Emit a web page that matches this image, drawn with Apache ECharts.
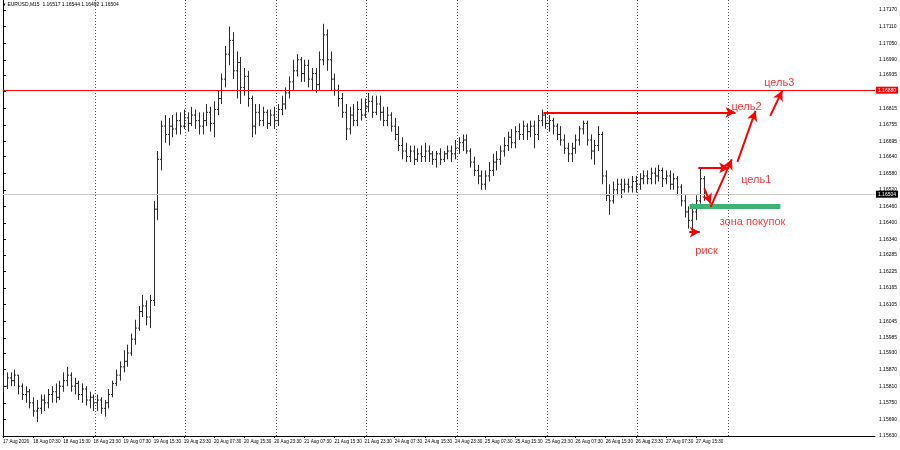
<!DOCTYPE html>
<html><head><meta charset="utf-8">
<script src="https://cdn.jsdelivr.net/npm/echarts@6/dist/echarts.min.js"></script>
<style>html,body{margin:0;padding:0;background:#fff}#c{width:900px;height:450px}</style>
</head><body><div id="c"></div>
<script>
// ---- data ----
const headerText = '\u25BE EURUSD,M15  1.16517 1.16544 1.16492 1.16504';
const xTickLabels = ['17 Aug 2026','18 Aug 07:30','18 Aug 15:30','18 Aug 23:30','19 Aug 07:30','19 Aug 15:30','19 Aug 23:30','20 Aug 07:30','20 Aug 15:30','20 Aug 23:30','21 Aug 07:30','21 Aug 15:30','21 Aug 23:30','24 Aug 07:30','24 Aug 15:30','24 Aug 23:30','25 Aug 07:30','25 Aug 15:30','25 Aug 23:30','26 Aug 07:30','26 Aug 15:30','26 Aug 23:30','27 Aug 07:30','27 Aug 15:30'];
const barsPerXTick = 8;
const yTickLabels = ['1.15630','1.15690','1.15750','1.15810','1.15870','1.15930','1.15985','1.16045','1.16105','1.16165','1.16225','1.16285','1.16340','1.16400','1.16460','1.16520','1.16580','1.16640','1.16695','1.16755','1.16815','1.16875','1.16935','1.16990','1.17050','1.17110','1.17170'];
const daySeparators = [24.5, 48.5, 72.5, 96.5, 120.5, 144.5, 168.5, 192.5];
const resistanceLevel = 1.16880;
const lastPrice = 1.16504;
// bars: [open, close, low, high]
const bars = [
[1.1583,1.1581,1.1579,1.1585],[1.1581,1.1584,1.1580,1.1586],[1.1584,1.1583,1.1581,1.1586],[1.1583,1.1585,1.1581,1.1587],
[1.1585,1.1581,1.1578,1.1585],[1.1581,1.1578,1.1576,1.1582],[1.1578,1.1579,1.1575,1.1581],[1.1579,1.1575,1.1573,1.1580],
[1.1575,1.1572,1.1570,1.1577],[1.1572,1.1573,1.1568,1.1576],[1.1573,1.1576,1.1571,1.1578],[1.1576,1.1575,1.1572,1.1578],
[1.1575,1.1578,1.1573,1.1580],[1.1578,1.1579,1.1575,1.1581],[1.1579,1.1577,1.1575,1.1582],[1.1577,1.1581,1.1576,1.1583],
[1.1581,1.1583,1.1579,1.1586],[1.1583,1.1585,1.1581,1.1588],[1.1585,1.1581,1.1579,1.1586],[1.1581,1.1582,1.1578,1.1584],
[1.1582,1.1578,1.1576,1.1583],[1.1578,1.1580,1.1575,1.1582],[1.1580,1.1576,1.1574,1.1581],[1.1576,1.1577,1.1573,1.1579],
[1.1577,1.1575,1.1572,1.1578],[1.1575,1.1576,1.1572,1.1578],[1.1576,1.1573,1.1571,1.1577],[1.1573,1.1575,1.1570,1.1576],
[1.1575,1.1578,1.1573,1.1580],[1.1578,1.1582,1.1577,1.1583],[1.1582,1.1585,1.1581,1.1587],[1.1585,1.1588,1.1583,1.1590],
[1.1588,1.1590,1.1586,1.1594],[1.1590,1.1593,1.1588,1.1596],[1.1593,1.1598,1.1592,1.1600],[1.1598,1.1602,1.1596,1.1605],
[1.1602,1.1608,1.1601,1.1610],[1.1608,1.1610,1.1606,1.1614],[1.1610,1.1606,1.1603,1.1612],[1.1606,1.1612,1.1602,1.1614],
[1.1612,1.1645,1.1610,1.1648],[1.1645,1.1663,1.1641,1.1666],[1.1663,1.1675,1.1659,1.1677],[1.1675,1.1672,1.1669,1.1679],
[1.1672,1.1675,1.1668,1.1678],[1.1675,1.1674,1.1671,1.1679],[1.1674,1.1677,1.1672,1.1680],[1.1677,1.1675,1.1672,1.1680],
[1.1675,1.1678,1.1674,1.1681],[1.1678,1.1676,1.1673,1.1680],[1.1676,1.1679,1.1675,1.1682],[1.1679,1.1677,1.1674,1.1681],
[1.1677,1.1675,1.1672,1.1680],[1.1675,1.1677,1.1672,1.1680],[1.1677,1.1680,1.1675,1.1683],[1.1680,1.1676,1.1673,1.1682],
[1.1676,1.1681,1.1671,1.1684],[1.1681,1.1685,1.1679,1.1688],[1.1685,1.1692,1.1683,1.1694],[1.1692,1.1701,1.1689,1.1704],
[1.1701,1.1706,1.1697,1.1711],[1.1706,1.1695,1.1692,1.1709],[1.1695,1.1698,1.1685,1.1702],[1.1698,1.1689,1.1683,1.1700],
[1.1689,1.1693,1.1686,1.1696],[1.1693,1.1685,1.1682,1.1695],[1.1685,1.1675,1.1671,1.1686],[1.1675,1.1680,1.1672,1.1683],
[1.1680,1.1677,1.1675,1.1683],[1.1677,1.1680,1.1675,1.1682],[1.1680,1.1676,1.1674,1.1681],[1.1676,1.1679,1.1675,1.1681],
[1.1679,1.1677,1.1674,1.1682],[1.1677,1.1681,1.1675,1.1683],[1.1681,1.1683,1.1679,1.1686],[1.1683,1.1687,1.1681,1.1689],
[1.1687,1.1691,1.1685,1.1693],[1.1691,1.1695,1.1688,1.1699],[1.1695,1.1699,1.1693,1.1701],[1.1699,1.1694,1.1691,1.1700],
[1.1694,1.1697,1.1691,1.1699],[1.1697,1.1692,1.1689,1.1699],[1.1692,1.1694,1.1688,1.1696],[1.1694,1.1690,1.1687,1.1696],
[1.1690,1.1699,1.1688,1.1702],[1.1699,1.1708,1.1697,1.1712],[1.1708,1.1699,1.1695,1.1710],[1.1699,1.1692,1.1688,1.1702],
[1.1692,1.1688,1.1686,1.1694],[1.1688,1.1685,1.1682,1.1690],[1.1685,1.1680,1.1678,1.1687],[1.1680,1.1674,1.1670,1.1683],
[1.1674,1.1679,1.1672,1.1682],[1.1679,1.1677,1.1675,1.1683],[1.1677,1.1681,1.1675,1.1684],[1.1681,1.1679,1.1677,1.1685],
[1.1679,1.1682,1.1678,1.1685],[1.1682,1.1684,1.1680,1.1687],[1.1684,1.1680,1.1678,1.1686],[1.1680,1.1683,1.1679,1.1686],
[1.1683,1.1680,1.1677,1.1686],[1.1680,1.1677,1.1675,1.1682],[1.1677,1.1679,1.1675,1.1682],[1.1679,1.1675,1.1673,1.1680],
[1.1675,1.1672,1.1670,1.1678],[1.1672,1.1668,1.1666,1.1675],[1.1668,1.1666,1.1663,1.1671],[1.1666,1.1664,1.1662,1.1669],
[1.1664,1.1666,1.1662,1.1668],[1.1666,1.1663,1.1661,1.1668],[1.1663,1.1665,1.1662,1.1667],[1.1665,1.1664,1.1662,1.1668],
[1.1664,1.1666,1.1662,1.1669],[1.1666,1.1665,1.1662,1.1668],[1.1665,1.1663,1.1661,1.1666],[1.1663,1.1665,1.1660,1.1666],
[1.1665,1.1663,1.1661,1.1667],[1.1663,1.1665,1.1662,1.1666],[1.1665,1.1666,1.1663,1.1668],[1.1666,1.1665,1.1662,1.1668],
[1.1665,1.1667,1.1663,1.1670],[1.1667,1.1669,1.1665,1.1671],[1.1669,1.1670,1.1666,1.1672],[1.1670,1.1666,1.1665,1.1672],
[1.1666,1.1662,1.1660,1.1667],[1.1662,1.1659,1.1657,1.1664],[1.1659,1.1657,1.1654,1.1661],[1.1657,1.1654,1.1652,1.1659],
[1.1654,1.1657,1.1652,1.1659],[1.1657,1.1659,1.1655,1.1662],[1.1659,1.1662,1.1657,1.1665],[1.1662,1.1663,1.1659,1.1666],
[1.1663,1.1666,1.1661,1.1668],[1.1666,1.1668,1.1664,1.1671],[1.1668,1.1671,1.1666,1.1673],[1.1671,1.1669,1.1667,1.1674],
[1.1669,1.1673,1.1667,1.1675],[1.1673,1.1672,1.1670,1.1676],[1.1672,1.1675,1.1670,1.1677],[1.1675,1.1673,1.1670,1.1676],
[1.1673,1.1675,1.1671,1.1677],[1.1675,1.1672,1.1667,1.1677],[1.1672,1.1677,1.1670,1.1679],[1.1677,1.1679,1.1675,1.1681],
[1.1679,1.1676,1.1674,1.1680],[1.1676,1.1677,1.1673,1.1679],[1.1677,1.1675,1.1672,1.1678],[1.1675,1.1672,1.1670,1.1676],
[1.1672,1.1670,1.1668,1.1675],[1.1670,1.1667,1.1665,1.1672],[1.1667,1.1665,1.1662,1.1669],[1.1665,1.1667,1.1662,1.1669],
[1.1667,1.1670,1.1665,1.1672],[1.1670,1.1674,1.1668,1.1675],[1.1674,1.1676,1.1672,1.1677],[1.1676,1.1670,1.1668,1.1677],
[1.1670,1.1666,1.1663,1.1672],[1.1666,1.1668,1.1661,1.1670],[1.1668,1.1672,1.1666,1.1675],[1.1672,1.1657,1.1654,1.1673],
[1.1657,1.1650,1.1648,1.1659],[1.1650,1.1648,1.1643,1.1654],[1.1648,1.1652,1.1647,1.1655],[1.1652,1.1654,1.1650,1.1656],
[1.1654,1.1652,1.1649,1.1656],[1.1652,1.1654,1.1651,1.1656],[1.1654,1.1653,1.1651,1.1656],[1.1653,1.1655,1.1651,1.1657],
[1.1655,1.1654,1.1651,1.1657],[1.1654,1.1656,1.1652,1.1658],[1.1656,1.1657,1.1654,1.1659],[1.1657,1.1656,1.1654,1.1659],
[1.1656,1.1658,1.1654,1.1660],[1.1658,1.1657,1.1654,1.1660],[1.1657,1.1659,1.1655,1.1661],[1.1659,1.1656,1.1653,1.1660],
[1.1656,1.1657,1.1654,1.1659],[1.1657,1.1654,1.1652,1.1659],[1.1654,1.1656,1.1652,1.1658],[1.1656,1.1653,1.1650,1.1657],
[1.1653,1.1648,1.1646,1.1654],[1.1648,1.1644,1.1642,1.1650],[1.1644,1.1641,1.1638,1.1646],[1.1641,1.1644,1.1638,1.1647],
[1.1644,1.1648,1.1641,1.1650],[1.1648,1.1656,1.1647,1.1660],[1.1656,1.16504,1.1648,1.1657]
];
// annotations in (bar index, price)
const arrowsLong = [
  [[143.5, 1.16800], [194.5, 1.16800]],
  [[184.6, 1.16599], [192.8, 1.16599]],
  [[186.2, 1.16525], [187.9, 1.16470]],
  [[187.9, 1.16458], [193.5, 1.16630]],
  [[195.0, 1.16621], [199.8, 1.16805]],
  [[203.7, 1.16787], [206.9, 1.16878]],
  [[182.2, 1.16367], [185.0, 1.16367]]
];
const buyZone = [[182.3, 1.16461], [206.4, 1.16461]];
const notes = [
  {name: 'цель3', value: [206.1, 1.16905]},
  {name: 'цель2', value: [197.4, 1.16818]},
  {name: 'цель1', value: [200.0, 1.16556]},
  {name: 'зона покупок', value: [199.0, 1.16404]},
  {name: 'риск', value: [186.8, 1.16300]}
];
const X_MAX = 231.5;
const Y_MIN = 1.15630, Y_MAX = 1.17206;

const chart = echarts.init(document.getElementById('c'), null, {renderer: 'canvas'});
const red = '#ff0000';
const hLine = (price, color, boxColor) => [
  {coord: [0, price], symbol: 'none', lineStyle: {color: color, width: 1, type: 'solid'}},
  {coord: [X_MAX, price], symbol: 'none',
    label: {show: true, position: 'end', distance: 1, formatter: price.toFixed(5), color: '#fff',
      backgroundColor: boxColor, fontSize: 5, padding: [1, 2], fontFamily: 'Liberation Sans'}}
];
const option = {
  animation: false,
  backgroundColor: '#fff',
  textStyle: {fontFamily: 'Liberation Sans, Arial, sans-serif'},
  graphic: [{type: 'text', left: 3, top: 2, style: {text: headerText, fontSize: 5, fill: '#000', fontFamily: 'Liberation Sans'}}],
  grid: {left: 0, right: 25, top: 0, bottom: 14},
  xAxis: {
    type: 'value', min: 0, max: X_MAX,
    axisLine: {show: true, lineStyle: {color: '#000', width: 1}},
    axisTick: {show: true, length: 2, lineStyle: {color: '#000'}, customValues: xTickLabels.map((_, k) => k * barsPerXTick)},
    axisLabel: {show: true, fontSize: 4.6, color: '#000', align: 'left', margin: 3,
      customValues: xTickLabels.map((_, k) => k * barsPerXTick),
      formatter: v => xTickLabels[Math.round(v / barsPerXTick)] || ''},
    splitLine: {show: false}
  },
  yAxis: {
    type: 'value', position: 'right', min: Y_MIN, max: Y_MAX, scale: true,
    axisLine: {show: true, lineStyle: {color: '#000', width: 1}},
    axisTick: {show: true, length: 3, lineStyle: {color: '#000'}, customValues: yTickLabels.map(Number)},
    axisLabel: {show: true, fontSize: 5, color: '#000', margin: 4,
      customValues: yTickLabels.map(Number),
      formatter: v => v.toFixed(5)},
    splitLine: {show: false}
  },
  series: [
    {
      type: 'line', data: [], z: 2,
      markLine: {
        silent: true, animation: false, symbol: 'none',
        data: daySeparators.map(v => [
          {coord: [v, Y_MIN], symbol: 'none'}, {coord: [v, Y_MAX], symbol: 'none'}]),
        lineStyle: {color: '#555', type: [1, 2], width: 1},
        label: {show: false}
      }
    },
    {
      type: 'line', data: [], z: 2,
      markLine: {
        silent: true, animation: false, symbol: 'none',
        data: [hLine(lastPrice, '#c8c8c8', '#000')],
        label: {show: false}
      }
    },
    {
      type: 'custom', clip: true, z: 3,
      data: bars.map((b, i) => [i, b[0], b[1], b[2], b[3]]),
      encode: {x: 0, y: [1, 2, 3, 4]},
      renderItem: (params, api) => {
        const i = api.value(0);
        const o = api.coord([i, api.value(1)]);
        const c = api.coord([i, api.value(2)]);
        const l = api.coord([i, api.value(3)]);
        const h = api.coord([i, api.value(4)]);
        const half = api.size([1, 0])[0] * 0.4;
        const x = Math.round(h[0]) + 0.5;
        const st = {stroke: '#2a2a2a', lineWidth: 1};
        return {type: 'group', children: [
          {type: 'line', shape: {x1: x, y1: h[1], x2: x, y2: l[1]}, style: st},
          {type: 'line', shape: {x1: x - half, y1: o[1], x2: x, y2: o[1]}, style: st},
          {type: 'line', shape: {x1: x, y1: c[1], x2: x + half, y2: c[1]}, style: st}
        ]};
      }
    },
    {
      type: 'line', data: [], z: 5,
      markLine: {
        silent: true, animation: false, symbol: 'none',
        data: [hLine(resistanceLevel, red, red)],
        label: {show: false}
      }
    },
    {
      type: 'line', data: [], z: 6,
      markLine: {
        silent: true, animation: false,
        data: [
          [{coord: buyZone[0], symbol: 'none'}, {coord: buyZone[1], symbol: 'none'}]
        ],
        lineStyle: {color: '#3cb371', width: 5, type: 'solid'},
        label: {show: false}
      }
    },
    {
      type: 'line', data: [], z: 7,
      markLine: {
        silent: true, animation: false,
        symbol: ['none', 'arrow'], symbolSize: [8, 10],
        data: arrowsLong.map(a => [{coord: a[0]}, {coord: a[1]}]),
        lineStyle: {color: red, width: 2, type: 'solid'},
        label: {show: false}
      }
    },
    {
      type: 'scatter', z: 8, symbolSize: 1, itemStyle: {color: 'rgba(0,0,0,0)'},
      data: notes,
      label: {show: true, position: 'inside', formatter: p => p.name, color: red, fontSize: 11, fontFamily: 'Liberation Sans'}
    }
  ]
};
chart.setOption(option);
</script></body></html>
